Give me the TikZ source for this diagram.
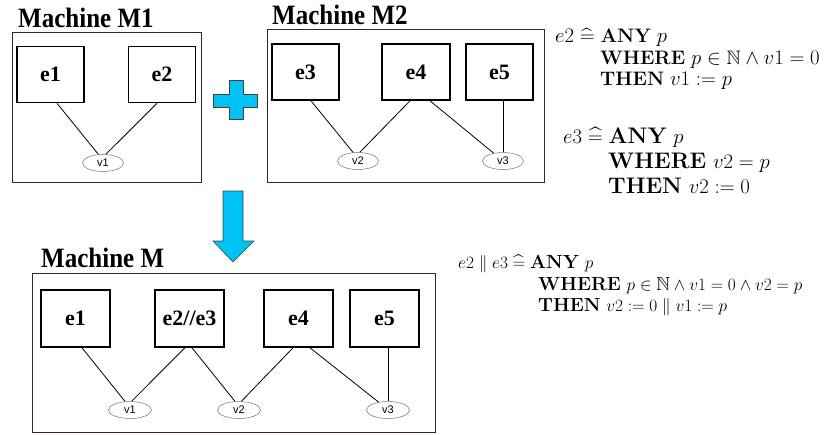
\documentclass[tikz,border=0pt]{standalone}
\usepackage{amssymb}
\usepackage{fontspec}
\newfontfamily\machfont{Liberation Serif}
\newfontfamily\varfont{Liberation Sans}
\usetikzlibrary{shapes.geometric}
\definecolor{machbrown}{RGB}{62,32,32}
\definecolor{signblue}{RGB}{0,195,245}
\newcommand{\defeq}{\mathrel{\widehat{=}}}
\newcommand{\tallbox}[1]{\scalebox{1}[1.12]{#1}}
\tikzset{
  machbox/.style={draw=machbrown, line width=0.9pt},
  machtitle/.style={anchor=base west, inner sep=0pt, font=\machfont\bfseries\fontsize{25}{25}\selectfont},
  evbox/.style={draw, line width=1.6pt, minimum width=67pt, minimum height=56pt, inner sep=0pt,
    font=\machfont\bfseries\fontsize{22}{22}\selectfont},
  varnode/.style={draw=black!55, ellipse, line width=0.5pt, minimum width=41pt, minimum height=17pt,
    inner sep=0pt, font=\varfont\fontsize{11}{11}\selectfont},
  link/.style={line width=0.8pt},
  bigsign/.style={fill=signblue, draw=black!75, line width=0.6pt},
  specA/.style={anchor=base west, inner sep=0pt, font=\fontsize{19.5}{19.5}\selectfont},
  specB/.style={anchor=base west, inner sep=0pt, font=\fontsize{22.5}{22.5}\selectfont},
  specC/.style={anchor=base west, inner sep=0pt, font=\fontsize{19}{19}\selectfont}
}
\begin{document}
\begin{tikzpicture}[x=1pt,y=-1pt]
\useasboundingbox (0,0) rectangle (824,434);
%%% Machine M1
\draw[machbox] (12,32) rectangle (201,182);
\node[machtitle] (t1) at (18,27) {\tallbox{Machine M1}};
\node[evbox] (a1) at (50.5,74.5) {e1};
\node[evbox] (a2) at (162,74.5) {e2};
\node[varnode] (av1) at (103,163) {v1};
\draw[link] ([xshift=6.5pt]a1.south) -- (av1.118);
\draw[link] ([xshift=-5pt]a2.south) -- (av1.72);
%%% plus sign
\draw[bigsign] (229,80) -- (243,80) -- (243,94) -- (257,94) -- (257,107) -- (243,107)
  -- (243,119) -- (229,119) -- (229,107) -- (213,107) -- (213,94) -- (229,94) -- cycle;
%%% Machine M2
\draw[machbox] (267,29) rectangle (544,182);
\node[machtitle] (t2) at (272,24) {\tallbox{Machine M2}};
\node[evbox] (b3) at (305.5,72) {e3};
\node[evbox, minimum width=68pt] (b4) at (416,72) {e4};
\node[evbox] (b5) at (499.5,72) {e5};
\node[varnode] (bv2) at (358,161) {v2};
\node[varnode] (bv3) at (503,161) {v3};
\draw[link] ([xshift=5.5pt]b3.south) -- (bv2.120);
\draw[link] ([xshift=-6pt]b4.south) -- (bv2.78);
\draw[link] ([xshift=14pt]b4.south) -- (bv3.140);
\draw[link] (bv3.north) -- (bv3.north |- b5.south);
%%% spec of e2 and e3
\node[specA] (s1) at (555,42) {$e2 \defeq \textbf{ANY}\ p$};
\node[specA] (s2) at (600,64) {$\textbf{WHERE}\ p \in \mathbb{N} \wedge v1 = 0$};
\node[specA] (s3) at (600,85) {$\textbf{THEN}\ v1 := p$};
\node[specB] (s4) at (563,143) {$e3 \defeq \textbf{ANY}\ p$};
\node[specB] (s5) at (608,168) {$\textbf{WHERE}\ v2 = p$};
\node[specB] (s6) at (608,193) {$\textbf{THEN}\ v2 := 0$};
%%% arrow down
\draw[bigsign] (223,191) -- (243,191) -- (243,241) -- (254,241) -- (233,262)
  -- (213,241) -- (223,241) -- cycle;
%%% Machine M
\draw[machbox] (32,273) rectangle (435,432);
\node[machtitle] (t3) at (41,267) {\tallbox{Machine M}};
\node[evbox, minimum width=69pt, minimum height=57pt] (c1) at (75.5,318.5) {e1};
\node[evbox, minimum width=69pt, minimum height=57pt] (c23) at (189.5,318.5) {e2//e3};
\node[evbox, minimum width=69pt, minimum height=57pt] (c4) at (298.5,318.5) {e4};
\node[evbox, minimum width=69pt, minimum height=57pt] (c5) at (384.5,318.5) {e5};
\node[varnode, minimum width=43pt] (cv1) at (130,410) {v1};
\node[varnode, minimum width=43pt] (cv2) at (239,410) {v2};
\node[varnode, minimum width=43pt] (cv3) at (388,410) {v3};
\draw[link] ([xshift=6.5pt]c1.south) -- (cv1.120);
\draw[link] ([xshift=-4.5pt]c23.south) -- (cv1.80);
\draw[link] ([xshift=2.5pt]c23.south) -- (cv2.115);
\draw[link] ([xshift=-5.5pt]c4.south) -- (cv2.75);
\draw[link] ([xshift=11.5pt]c4.south) -- (cv3.140);
\draw[link] (cv3.north) -- (cv3.north |- c5.south);
%%% spec of e2||e3
\node[specC] (s7) at (458,268) {$e2 \parallel e3 \defeq \textbf{ANY}\ p$};
\node[specC] (s8) at (538,290) {$\textbf{WHERE}\ p \in \mathbb{N} \wedge v1 = 0 \wedge v2 = p$};
\node[specC] (s9) at (538,311) {$\textbf{THEN}\ v2 := 0 \parallel v1 := p$};
\end{tikzpicture}
\end{document}
